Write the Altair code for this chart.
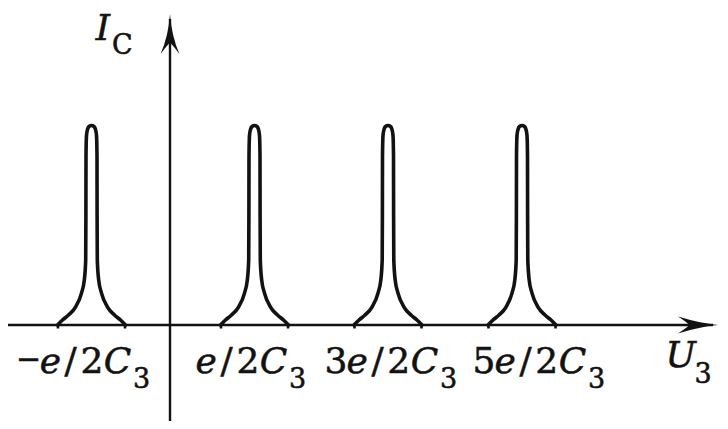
import altair as alt
import pandas as pd

# ---------------- data (schematic units, 1 unit ~ 100 px) -------------
peak_centers = [-0.785, 0.845, 2.18, 3.52]          # positions of the four conductance peaks
peak_height = 1.995                                  # common peak height
# half-profile of one peak (left side, offset from centre, fraction of height)
profile_dx = [-0.34, -0.29, -0.23, -0.16, -0.10, -0.072, -0.058, -0.056, -0.055, -0.050, -0.040, -0.025, 0.0]
profile_h = [0.0, 0.025, 0.05, 0.09, 0.16, 0.225, 0.325, 0.55, 0.85, 0.95, 0.98, 0.995, 1.0]
edge_offset = 0.335                                  # little marks where each peak meets the axis

tick_prefixes = ["−", "", "3", "5"]                  # labels: prefix + e/2C_3
tick_label_left = [-1.53, 0.26, 1.55, 3.03]
x_title, x_title_sub = "U", "3"
y_title, y_title_sub = "I", "C"

x_extent = [-1.62, 5.48]                             # horizontal axis (to arrow tip)
y_extent = [-0.96, 3.11]                             # vertical axis (to arrow tip)

# ---------------- layout / style ----------------
W, H = 712, 413
XDOM = [-1.62, 5.50]
YDOM = [-0.96, 3.17]
INK = "#121212"
FONT = "DejaVu Serif"
EM, SUB, MINUS = 36, 27, 30
ADV = {"−": 0.64, "e": 0.57, "/": 0.56, "2": 0.62, "3": 0.61, "5": 0.61,
       "C": 0.81, "U": 0.84, "I": 0.55}
SUB_ADV = 0.70  # advance of a subscript glyph, in SUB em

xs = alt.Scale(domain=XDOM, nice=False, zero=False)
ys = alt.Scale(domain=YDOM, nice=False, zero=False)

# ---- peaks
full_dx = profile_dx + [-d for d in reversed(profile_dx[:-1])]
full_h = profile_h + list(reversed(profile_h[:-1]))
rows = []
for i, c in enumerate(peak_centers):
    for dx, h in zip(full_dx, full_h):
        rows.append({"x": c + dx, "y": h * peak_height, "peak": i})
peaks_df = pd.DataFrame(rows)

peaks = alt.Chart(peaks_df).mark_line(
    color=INK, strokeWidth=3.6, interpolate="monotone", strokeCap="round", strokeJoin="round"
).encode(
    x=alt.X("x:Q", scale=xs, axis=None),
    y=alt.Y("y:Q", scale=ys, axis=None),
    detail="peak:N",
)

# ---- axes lines
axes_df = pd.DataFrame([
    {"x": x_extent[0], "x2": x_extent[1] - 0.05, "y": 0.0, "y2": 0.0},
    {"x": 0.0, "x2": 0.0, "y": y_extent[0], "y2": y_extent[1] - 0.05},
])
axes = alt.Chart(axes_df).mark_rule(color=INK, strokeWidth=2.4).encode(
    x=alt.X("x:Q", scale=xs, axis=None), x2="x2:Q",
    y=alt.Y("y:Q", scale=ys, axis=None), y2="y2:Q",
)

# ---- small edge marks
edge_rows = []
for c in peak_centers:
    for s in (-1, 1):
        edge_rows.append({"x": c + s * edge_offset, "y": -0.035, "y2": 0.01})
edges = alt.Chart(pd.DataFrame(edge_rows)).mark_rule(color=INK, strokeWidth=2.6).encode(
    x=alt.X("x:Q", scale=xs, axis=None),
    y=alt.Y("y:Q", scale=ys, axis=None), y2="y2:Q",
)

# ---- arrow heads (custom symbol paths, 40 px long)
arrow_right = "M1,0 Q0.1,-0.08 -1,-0.42 Q-0.45,-0.06 -0.45,0 Q-0.45,0.06 -1,0.42 Q0.1,0.08 1,0 Z"
arrow_up = "M0,-1 Q-0.08,0.1 -0.47,1 Q-0.06,0.45 0,0.45 Q0.06,0.45 0.47,1 Q0.08,0.1 0,-1 Z"
ax_head = alt.Chart(pd.DataFrame([{"x": x_extent[1] - 0.2, "y": 0.0}])).mark_point(
    shape=arrow_right, size=1600, filled=True, color=INK, opacity=1, strokeWidth=0
).encode(x=alt.X("x:Q", scale=xs, axis=None), y=alt.Y("y:Q", scale=ys, axis=None))
ay_head = alt.Chart(pd.DataFrame([{"x": 0.0, "y": y_extent[1] - 0.2}])).mark_point(
    shape=arrow_up, size=1600, filled=True, color=INK, opacity=1, strokeWidth=0
).encode(x=alt.X("x:Q", scale=xs, axis=None), y=alt.Y("y:Q", scale=ys, axis=None))

# ---- text segments (each glyph centred in its slot)
segs = []


def add(txt, slot_left, adv_px, y, size, italic):
    segs.append({"x": slot_left + adv_px / 200, "y": y, "t": txt, "fs": size,
                 "it": "italic" if italic else "normal"})
    return slot_left + adv_px / 100


base_y, sub_drop = -0.48, 0.15
for pre, left in zip(tick_prefixes, tick_label_left):
    parts = ([(pre, False)] if pre else []) + [("e", True), ("/", False), ("2", False), ("C", True)]
    x = left
    for txt, it in parts:
        if txt == "−":
            x = add(txt, x, ADV[txt] * EM, base_y + 0.045, MINUS, it)
        else:
            x = add(txt, x, ADV[txt] * EM, base_y, EM, it)
    add("3", x, SUB_ADV * SUB, base_y - sub_drop, SUB, False)

# axis titles
ux, uy = 4.955, -0.42
x = add(x_title, ux, ADV["U"] * EM, uy, EM, True)
add(x_title_sub, x - 0.02, SUB_ADV * SUB, uy - 0.16, SUB, False)
ix, iy = -0.77, 2.855
x = add(y_title, ix, ADV["I"] * EM, iy, EM, True)
add(y_title_sub, x, SUB_ADV * SUB, iy - 0.14, SUB, False)

seg_df = pd.DataFrame(segs)


def text_layer(style):
    return alt.Chart(seg_df[seg_df["it"] == style]).mark_text(
        align="center", baseline="alphabetic", font=FONT, fontStyle=style, color=INK,
        stroke=INK, strokeWidth=0.55
    ).encode(
        x=alt.X("x:Q", scale=xs, axis=None),
        y=alt.Y("y:Q", scale=ys, axis=None),
        text="t:N",
        size=alt.Size("fs:Q", scale=None, legend=None),
    )


chart = alt.layer(
    axes, edges, peaks, ax_head, ay_head, text_layer("italic"), text_layer("normal")
).properties(
    width=W, height=H, padding=0, autosize=alt.AutoSizeParams(type="none"), background="white"
).configure_view(stroke=None)

chart.save("out.html", embed_options={"renderer": "svg", "actions": False})
